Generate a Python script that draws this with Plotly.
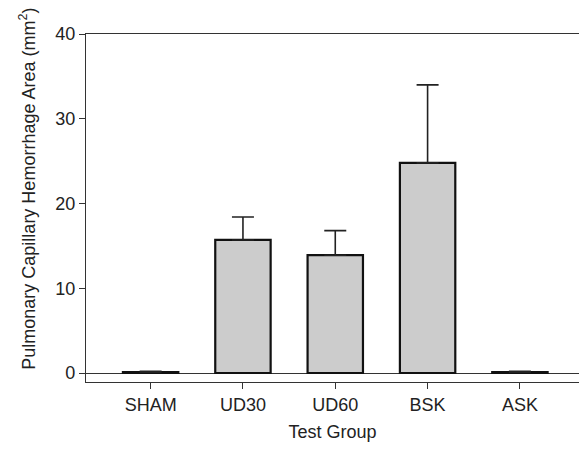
import plotly.graph_objects as go

groups = ["SHAM", "UD30", "UD60", "BSK", "ASK"]
means = [0.1, 15.7, 13.9, 24.8, 0.1]
errors = [0.1, 2.7, 2.9, 9.2, 0.1]
y_ticks = [0, 10, 20, 30, 40]

fig = go.Figure()
fig.add_trace(go.Bar(
    x=groups, y=means,
    width=0.6,
    marker=dict(color="#cccccc", line=dict(color="#111111", width=2.2)),
    error_y=dict(type="data", array=errors, arrayminus=[0]*len(errors),
                 symmetric=False, color="#222222", thickness=1.6, width=11),
))

axis_font = dict(family="Liberation Sans, Arial, sans-serif", size=18, color="#222222")
fig.update_layout(
    width=579, height=450,
    margin=dict(l=86, r=0, t=34, b=68),
    plot_bgcolor="white", paper_bgcolor="white",
    showlegend=False,
    font=axis_font,
)
fig.update_xaxes(
    range=[-0.7, 4.64],
    showline=True, linecolor="#333333", linewidth=1.2, mirror=True,
    ticks="outside", ticklen=6, tickcolor="#333333", tickwidth=1,
    showgrid=False, zeroline=False,
    tickfont=axis_font,
    title=dict(text="Test Group", font=axis_font, standoff=11),
)
fig.update_yaxes(
    range=[-1.06, 40],
    tickvals=y_ticks,
    showline=True, linecolor="#333333", linewidth=1.2,
    ticks="outside", ticklen=6, tickcolor="#333333", tickwidth=1,
    showgrid=False,
    zeroline=True, zerolinecolor="#333333", zerolinewidth=1.2,
    tickfont=axis_font,
)
fig.add_annotation(
    text="Pulmonary Capillary Hemorrhage Area (mm<sup>2</sup>)",
    textangle=-90, xref="paper", yref="paper",
    x=-0.118, y=0.555, xanchor="center", yanchor="middle",
    showarrow=False, font=axis_font,
)

# remove the default page margin and scrollbars so the figure fills the window
fig.write_html(
    "out.html",
    config={"displayModeBar": False},
    post_script="document.documentElement.style.overflow='hidden';"
                "document.body.style.margin='0';document.body.style.overflow='hidden';",
)
